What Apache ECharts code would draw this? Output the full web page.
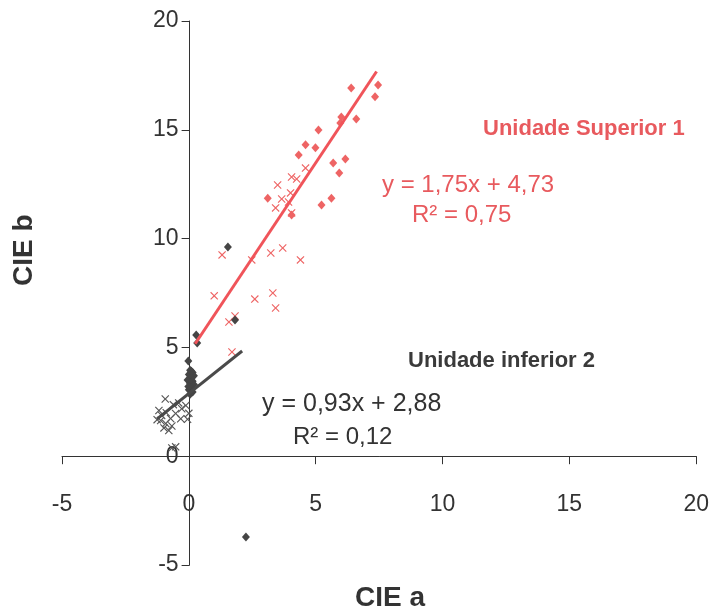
<!DOCTYPE html>
<html>
<head>
<meta charset="utf-8">
<script src="https://cdn.jsdelivr.net/npm/echarts@6/dist/echarts.min.js"></script>
<style>
  html, body { margin: 0; padding: 0; background: #fff; }
  #chart { width: 712px; height: 616px; }
</style>
</head>
<body>
<div id="chart"></div>
<script>
// CIE a / CIE b scatter of the two units, with linear trendlines.

// Unidade Superior 1 — filled diamonds [a, b]
const supDiamonds = [
  [6.40, 16.92], [7.46, 17.06], [7.34, 16.52], [6.01, 15.59], [5.97, 15.31],
  [6.60, 15.50], [5.11, 14.99], [4.60, 14.31], [4.99, 14.17], [4.33, 13.84],
  [6.17, 13.66], [5.69, 13.48], [5.93, 13.02], [3.11, 11.86], [5.23, 11.54],
  [5.62, 11.86], [4.05, 11.08]
];
// Unidade Superior 1 — crosses [a, b]
const supCrosses = [
  [4.60, 13.24], [4.05, 12.83], [4.25, 12.74], [3.50, 12.46], [4.01, 12.10],
  [3.66, 11.82], [3.93, 11.68], [3.42, 11.41], [4.05, 11.18], [1.31, 9.25],
  [3.70, 9.57], [3.23, 9.34], [2.48, 9.02], [4.40, 9.02], [1.00, 7.37],
  [2.60, 7.22], [3.31, 7.50], [3.42, 6.81], [1.58, 6.17], [1.82, 6.44],
  [1.70, 4.79]
];
// Unidade inferior 2 — filled diamonds [a, b]
const infDiamonds = [
  [1.54, 9.61], [1.82, 6.26], [2.25, -3.71], [0.29, 5.57], [0.33, 5.20],
  [-0.02, 4.37], [0.05, 3.95], [0.15, 3.85], [0.00, 3.75], [0.20, 3.70],
  [0.10, 3.60], [-0.05, 3.50], [0.15, 3.45], [0.05, 3.35], [0.20, 3.30],
  [0.10, 3.15], [0.00, 3.05], [0.15, 2.95], [0.05, 2.85], [0.10, 3.90],
  [-0.02, 3.20]
];
// Unidade inferior 2 — crosses [a, b]
const infCrosses = [
  [-0.93, 2.63], [-0.40, 2.45], [-0.61, 2.37], [-0.05, 1.70], [-1.18, 2.10],
  [-1.07, 1.87], [-1.11, 1.64], [-0.91, 1.50], [-0.72, 1.73], [-0.52, 1.96],
  [-0.79, 1.18], [-0.98, 1.30], [-0.67, 1.39], [-0.28, 2.18], [-0.12, 2.33],
  [-0.67, 0.38], [-0.52, 0.43], [-1.25, 1.68], [-0.32, 1.72], [-0.89, 2.00],
  [0.00, 1.97]
];

// Trendline equations as printed on the chart, and the a-range each spans
const supTrend = { slope: 1.75, intercept: 4.73, from: 0.25, to: 7.40 };
const infTrend = { slope: 0.93, intercept: 2.88, from: -1.25, to: 2.10 };

// Axis ticks
const axisMin = -5, axisMax = 20, axisStep = 5;

const trendPoints = t => [
  [t.from, t.slope * t.from + t.intercept],
  [t.to, t.slope * t.to + t.intercept]
];

const RED = '#ee6464';
const RED_LINE = '#f0545a';
const DARK = '#454545';
const FONT = '"Liberation Sans", Arial, sans-serif';
const CROSS = 'path://M0,1L1,0L5,4L9,0L10,1L6,5L10,9L9,10L5,6L1,10L0,9L4,5Z';

// Plot area
const GRID = { left: 62, right: 12, top: 21, bottom: 51 };
const W = 712, H = 616;
const plotW = W - GRID.left - GRID.right;
const plotH = H - GRID.top - GRID.bottom;
// Shift each axis (with its ticks and labels) onto the other axis' zero
const zeroFrac = (0 - axisMin) / (axisMax - axisMin);

const chart = echarts.init(document.getElementById('chart'));

const axisCommon = {
  type: 'value',
  min: axisMin,
  max: axisMax,
  interval: axisStep,
  splitLine: { show: false },
  axisLine: { onZero: false, lineStyle: { color: '#333', width: 1 } },
  axisTick: { inside: false, length: 8, lineStyle: { color: '#333' } },
  axisLabel: { color: '#333', fontSize: 23, fontFamily: FONT, hideOverlap: false }
};

chart.setOption({
  animation: false,
  backgroundColor: '#fff',
  grid: GRID,
  xAxis: Object.assign({}, axisCommon, {
    position: 'bottom',
    offset: -plotH * zeroFrac,
    axisLabel: Object.assign({}, axisCommon.axisLabel, { margin: 37 })
  }),
  yAxis: Object.assign({}, axisCommon, {
    position: 'left',
    offset: -plotW * zeroFrac,
    axisLabel: Object.assign({}, axisCommon.axisLabel, { margin: 11 })
  }),
  series: [
    {
      type: 'line', data: trendPoints(supTrend), symbol: 'none', z: 3,
      lineStyle: { color: RED_LINE, width: 3 }
    },
    {
      type: 'line', data: trendPoints(infTrend), symbol: 'none', z: 3,
      lineStyle: { color: '#4a4a4a', width: 3 }
    },
    {
      type: 'scatter', data: supDiamonds, symbol: 'diamond', symbolSize: [8, 9],
      itemStyle: { color: RED, opacity: 1 }, z: 2
    },
    {
      type: 'scatter', data: supCrosses, symbol: CROSS, symbolSize: 8,
      itemStyle: { color: RED, opacity: 1 }, z: 2
    },
    {
      type: 'scatter', data: infDiamonds, symbol: 'diamond', symbolSize: [8, 9],
      itemStyle: { color: DARK, opacity: 1 }, z: 2
    },
    {
      type: 'scatter', data: infCrosses, symbol: CROSS, symbolSize: 8,
      itemStyle: { color: '#555', opacity: 1 }, z: 2
    }
  ],
  graphic: [
    { type: 'text', left: 483, top: 118, style: { text: 'Unidade Superior 1', fill: '#e85a5e', font: 'bold 22px ' + FONT } },
    { type: 'text', left: 382, top: 173, style: { text: 'y = 1,75x + 4,73', fill: '#e85a5e', font: '24px ' + FONT } },
    { type: 'text', left: 412, top: 203, style: { text: 'R² = 0,75', fill: '#e85a5e', font: '24px ' + FONT } },
    { type: 'text', left: 408, top: 350, style: { text: 'Unidade inferior 2', fill: '#3a3a3a', font: 'bold 22px ' + FONT } },
    { type: 'text', left: 262, top: 392, style: { text: 'y = 0,93x + 2,88', fill: '#333', font: '25px ' + FONT } },
    { type: 'text', left: 293, top: 425, style: { text: 'R² = 0,12', fill: '#333', font: '24px ' + FONT } },
    { type: 'text', left: 355, top: 584, style: { text: 'CIE a', fill: '#333', font: 'bold 28px ' + FONT } },
    {
      type: 'text', x: 10, y: 286, rotation: Math.PI / 2,
      style: { text: 'CIE b', fill: '#333', font: 'bold 28px ' + FONT }
    }
  ]
});
</script>
</body>
</html>
